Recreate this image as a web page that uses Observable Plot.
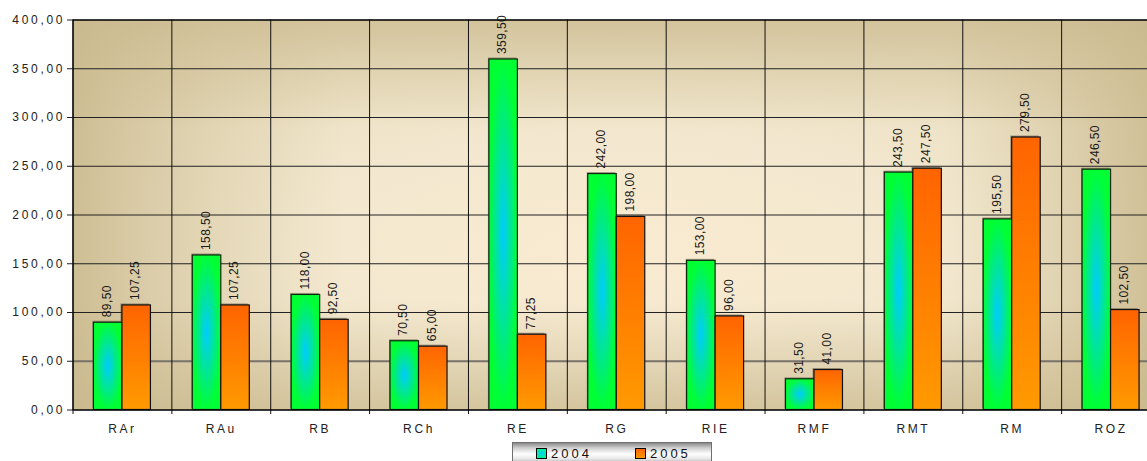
<!DOCTYPE html>
<html>
<head>
<meta charset="utf-8">
<script src="https://cdn.jsdelivr.net/npm/d3@7"></script>
<script src="https://cdn.jsdelivr.net/npm/@observablehq/plot@0.6"></script>
<style>
  html, body { margin: 0; padding: 0; background: #fff; overflow: hidden; }
  #wrap { width: 1147px; height: 461px; position: relative; font-family: "Liberation Sans", Arial, sans-serif; }
  #wrap svg text { font-family: "Liberation Sans", Arial, sans-serif; font-size: 12px; letter-spacing: 2.6px; }
  #wrap svg g[aria-label^="y-axis"] text { letter-spacing: 2.7px; }
  #wrap svg text.val { letter-spacing: 0.4px; }
  #legend {
    position: absolute; left: 512px; top: 442px; width: 200px; height: 22px;
    border: 1px solid #6f6f6f; box-sizing: border-box;
    background: linear-gradient(to bottom, #8a8a8a 0%, #cfcfcf 25%, #ffffff 55%, #e6e6e6 80%, #b0b0b0 100%);
    display: flex; align-items: center; font-size: 13px; color: #111; letter-spacing: 3px;
  }
  .sw { width: 9px; height: 9px; border: 1px solid #000; margin-right: 4px; }
  .item { display: flex; align-items: center; }
</style>
</head>
<body>
<div id="wrap"></div>
<script>
const cats = ["RAr", "RAu", "RB", "RCh", "RE", "RG", "RIE", "RMF", "RMT", "RM", "ROZ"];
const v2004 = [89.5, 158.5, 118, 70.5, 359.5, 242, 153, 31.5, 243.5, 195.5, 246.5];
const v2005 = [107.25, 107.25, 92.5, 65, 77.25, 198, 96, 41, 247.5, 279.5, 102.5];
const years = ["2004", "2005"];
const yTicks = [0, 50, 100, 150, 200, 250, 300, 350, 400];

const locale = d3.formatLocale({decimal: ",", thousands: ".", grouping: [3], currency: ["", ""]});
const fmt = locale.format(".2f");

const d2004 = cats.map((c, i) => ({cat: c, v: v2004[i]}));
const d2005 = cats.map((c, i) => ({cat: c, v: v2005[i]}));

const W = 1147, H = 440, ML = 72.5, MR = -13, MT = 19.5, MB = 30.5;
const bw = (W - ML - MR) / cats.length;
const barW = 28.5;

const chart = Plot.plot({
  width: W, height: H,
  marginLeft: ML, marginRight: MR, marginTop: MT, marginBottom: MB,
  style: {fontFamily: "'Liberation Sans', Arial, sans-serif", fontSize: "12px", color: "#222", background: "transparent", overflow: "hidden"},
  x: {domain: cats, padding: 0, round: false, tickSize: 0, tickPadding: 14, label: null},
  y: {domain: [0, 400], ticks: yTicks, tickFormat: fmt, tickSize: 5.5, tickPadding: 2.3, label: null},
  marks: [
    Plot.frame({fill: "url(#bgGrad)", stroke: "none"}),
    Plot.frame({fill: "url(#bgH)", stroke: "none"}),
    Plot.frame({fill: "url(#bgV)", stroke: "none"}),
    Plot.ruleY(yTicks.filter(t => t !== 50), {stroke: "#222", strokeWidth: 1}),
    Plot.ruleY([50], {stroke: "#77726a", strokeWidth: 2.2}),
    Plot.ruleX(cats, {x: d => d, dx: -bw / 2, stroke: "#111", insetBottom: -4.5}),
    Plot.barY(d2004, {x: "cat", y: "v", fill: "#4a4236", fillOpacity: 0.45, dx: -1, dy: -1.5,
      insetLeft: bw / 2 - barW, insetRight: bw / 2}),
    Plot.barY(d2005, {x: "cat", y: "v", fill: "#4a4236", fillOpacity: 0.45, dx: -1.5, dy: -1.5,
      insetLeft: bw / 2, insetRight: bw / 2 - barW}),
    Plot.barY(d2004, {x: "cat", y: "v", fill: "url(#g2004)", stroke: "#0a2a0a", strokeWidth: 1.2,
      insetLeft: bw / 2 - barW, insetRight: bw / 2}),
    Plot.barY(d2005, {x: "cat", y: "v", fill: "url(#g2005)", stroke: "#111", strokeWidth: 1.2,
      insetLeft: bw / 2, insetRight: bw / 2 - barW}),
    Plot.text(d2004, {x: "cat", y: "v", text: d => fmt(d.v), rotate: -90, textAnchor: "start",
      dx: -barW / 2 - 1.2, dy: -5.5, fill: "#1a1a1a"}),
    Plot.text(d2005, {x: "cat", y: "v", text: d => fmt(d.v), rotate: -90, textAnchor: "start",
      dx: barW / 2 - 1.2, dy: -5.5, fill: "#1a1a1a"}),
    Plot.frame({stroke: "#000", strokeWidth: 1.2})
  ]
});

const svg = d3.select(chart);
svg.selectAll("text").filter(function() {
  const t = this.getAttribute("transform") || "";
  return t.includes("rotate");
}).classed("val", true);

const defs = svg.insert("defs", ":first-child");
function stops(g, list) {
  list.forEach(([o, c, a]) => g.append("stop").attr("offset", o).attr("stop-color", c).attr("stop-opacity", a == null ? 1 : a));
}
const tan = "#c9b88c";
stops(defs.append("radialGradient").attr("id", "bgGrad").attr("cx", 0.5).attr("cy", 0.6).attr("r", 0.6),
  [[0, "#f9ebd2"], [0.5, "#f3e8cf"], [1, "#e9dec0"]]);
stops(defs.append("linearGradient").attr("id", "bgH").attr("x1", 0).attr("y1", 0).attr("x2", 1).attr("y2", 0),
  [[0, tan, 0.85], [0.05, tan, 0.6], [0.13, tan, 0.3], [0.25, tan, 0], [0.8, tan, 0], [0.9, tan, 0.35], [1, tan, 0.85]]);
stops(defs.append("linearGradient").attr("id", "bgV").attr("x1", 0).attr("y1", 0).attr("x2", 0).attr("y2", 1),
  [[0, tan, 0.7], [0.1, tan, 0.4], [0.28, tan, 0], [0.72, tan, 0], [0.87, tan, 0.35], [1, tan, 0.7]]);
const g1 = defs.append("radialGradient").attr("id", "g2004").attr("cx", 0.5).attr("cy", 0.5).attr("r", 0.5);
stops(g1, [[0, "#00ccff"], [1, "#00ff33"]]);
const g2 = defs.append("linearGradient").attr("id", "g2005").attr("x1", 0).attr("y1", 0).attr("x2", 0).attr("y2", 1);
stops(g2, [[0, "#ff6400"], [1, "#ff9a00"]]);

const wrap = document.getElementById("wrap");
wrap.appendChild(chart);

const legend = document.createElement("div");
legend.id = "legend";
const swatchBg = {
  "2004": "radial-gradient(circle, #00ccff 0%, #00ff66 100%)",
  "2005": "linear-gradient(to bottom, #ff6600, #ff9900)"
};
years.forEach((y, i) => {
  const it = document.createElement("div");
  it.className = "item";
  it.style.marginLeft = i === 0 ? "23px" : "43px";
  const sw = document.createElement("div");
  sw.className = "sw";
  sw.style.background = swatchBg[y];
  const t = document.createElement("span");
  t.textContent = y;
  it.appendChild(sw); it.appendChild(t);
  legend.appendChild(it);
});
wrap.appendChild(legend);
</script>
</body>
</html>
